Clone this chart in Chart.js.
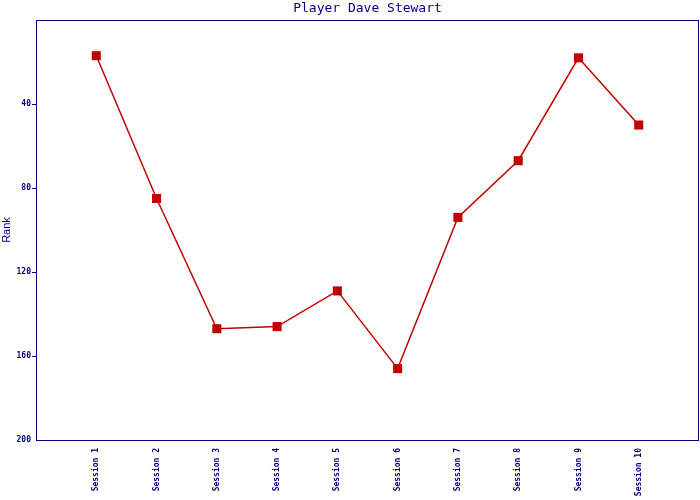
<!DOCTYPE html>
<html>
<head>
<meta charset="utf-8">
<script src="https://cdn.jsdelivr.net/npm/chart.js@4/dist/chart.umd.min.js"></script>
<style>
html,body{margin:0;padding:0;background:#fff;}
#wrap{width:700px;height:500px;}
</style>
</head>
<body>
<div id="wrap"><canvas id="c" width="700" height="500"></canvas></div>
<script>
const chartTitle = "Player Dave Stewart";
const categories = ["Session 1","Session 2","Session 3","Session 4","Session 5","Session 6","Session 7","Session 8","Session 9","Session 10"];
const rankValues = [17, 85, 147, 146, 129, 166, 94, 67, 18, 50];
const yTicks = [0, 40, 80, 120, 160, 200];
const yTickMarks = [40, 80, 120, 160];
const yAxisTitle = "Rank";

const NAVY = "#000080";
const RED = "#C00000";
const monoFont = "'DejaVu Sans Mono', monospace";

const points = categories.map((c, i) => ({x: i + 1, y: rankValues[i]}));

const framePlugin = {
  id: 'frame',
  afterDraw(chart) {
    const {ctx, chartArea: a} = chart;
    const ys = chart.scales.y;
    ctx.save();
    ctx.strokeStyle = NAVY;
    ctx.lineWidth = 1;
    const L = Math.round(a.left), T = Math.round(a.top), R = Math.round(a.right), B = Math.round(a.bottom);
    ctx.strokeRect(L + 0.5, T + 0.5, R - L - 1, B - T);
    ctx.beginPath();
    yTickMarks.forEach(v => {
      const py = Math.round(ys.getPixelForValue(v)) + 0.5;
      ctx.moveTo(L - 4, py);
      ctx.lineTo(L + 1, py);
    });
    ctx.stroke();
    ctx.fillStyle = NAVY;
    ctx.font = "13px " + monoFont;
    ctx.textAlign = "center";
    ctx.textBaseline = "middle";
    ctx.fillText(chartTitle, (a.left + a.right) / 2, 9);
    ctx.restore();
  }
};

new Chart(document.getElementById('c'), {
  type: 'line',
  data: {
    datasets: [{
      data: points,
      borderColor: RED,
      backgroundColor: RED,
      borderWidth: 1.5,
      pointStyle: 'rect',
      pointRadius: 6.4,
      pointBorderWidth: 0,
      pointBackgroundColor: RED,
      tension: 0
    }]
  },
  options: {
    responsive: false,
    animation: false,
    devicePixelRatio: 1,
    layout: {autoPadding: false, padding: {top: 20, right: 1, left: 0, bottom: 0}},
    plugins: {legend: {display: false}, tooltip: {enabled: false}, title: {display: false}},
    scales: {
      x: {
        type: 'linear',
        min: 0, max: 11,
        afterBuildTicks(scale) {
          scale.ticks = categories.map((c, i) => ({value: i + 1}));
        },
        afterFit(scale) { scale.height = 60; scale.paddingLeft = 0; scale.paddingRight = 0; },
        grid: {display: false},
        border: {display: false},
        ticks: {
          autoSkip: false,
          maxRotation: 90, minRotation: 90,
          padding: 0,
          color: NAVY,
          font: {family: monoFont, size: 8, weight: 'bold'},
          callback: (v) => categories[v - 1] || ''
        }
      },
      y: {
        type: 'linear',
        reverse: true,
        min: 0, max: 200,
        afterBuildTicks(scale) {
          scale.ticks = yTicks.map(v => ({value: v}));
        },
        afterFit(scale) { scale.width = 36; scale.paddingTop = 0; scale.paddingBottom = 0; },
        grid: {display: false},
        border: {display: false},
        title: {display: true, text: yAxisTitle, color: NAVY, padding: 0,
                font: {family: "'Liberation Sans', Arial, sans-serif", size: 11}},
        ticks: {
          padding: -3,
          color: NAVY,
          font: {family: monoFont, size: 8, weight: 'bold'},
          callback: (v) => v === 0 ? '' : String(v)
        }
      }
    }
  },
  plugins: [framePlugin]
});
</script>
</body>
</html>
